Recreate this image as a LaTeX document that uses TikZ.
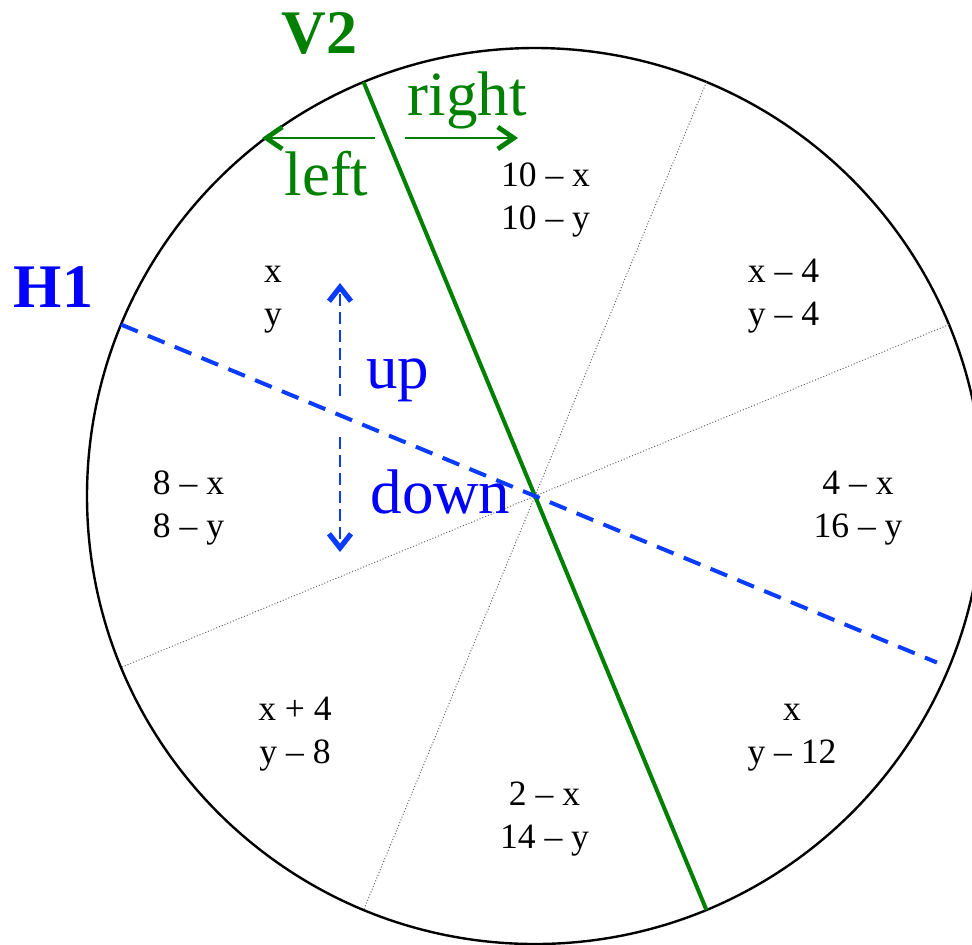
\documentclass[tikz,border=0pt]{standalone}
\usepackage{fontspec}
\setmainfont{Liberation Serif}
\usetikzlibrary{arrows.meta}
\definecolor{vgreen}{RGB}{0,128,0}
\definecolor{hblue}{RGB}{0,0,255}
\definecolor{dblue}{RGB}{10,60,255}
\begin{document}
\begin{tikzpicture}[x=0.5pt,y=-0.5pt,
  lbl/.style={inner sep=0pt,anchor=base,font=\fontsize{17.8}{21.5}\selectfont},
  word/.style={inner sep=0pt,anchor=base,font=\fontsize{31.5}{36}\selectfont},
  tag/.style={inner sep=0pt,anchor=base,font=\fontsize{31}{36}\selectfont\bfseries},
  ray/.style={black!60,line width=0.5pt,dash pattern=on 0.5pt off 1pt},
  vline/.style={vgreen,line width=2pt},
  hline/.style={dblue,line width=2pt,dash pattern=on 9pt off 5.5pt},
  garrow/.style={vgreen,line width=1.2pt,-{Straight Barb[length=8pt,width=11pt,line width=2.4pt]}},
  barrow/.style={dblue,line width=1pt,dash pattern=on 6pt off 3pt,-{Straight Barb[length=7pt,width=11pt,line width=2.6pt]}}
]
\useasboundingbox (0,0) rectangle (972,944);
\coordinate (O) at (535,496);
\draw[line width=1.2pt] (O) circle[radius=224pt];
% dotted sector lines
\coordinate (d1a) at (948.9,324.6);
\coordinate (d1b) at (121.1,667.4);
\coordinate (d2a) at (706.4,82.1);
\coordinate (d2b) at (363.6,909.9);
\draw[ray] (d1a) -- (d1b);
\draw[ray] (d2a) -- (d2b);
% V2 green line
\coordinate (v2a) at (363.6,82.1);
\coordinate (v2b) at (706.4,909.9);
\draw[vline] (v2a) -- (v2b);
% H1 blue dashed line
\coordinate (h1a) at (121.1,324.6);
\coordinate (h1b) at (936.9,662.5);
\draw[hline] (h1a) -- (h1b);
% green arrows
\coordinate (ls) at (375,138);
\coordinate (le) at (262,138);
\coordinate (rs) at (405,138);
\coordinate (re) at (518,138);
\draw[garrow] (ls) -- (le);
\draw[garrow] (rs) -- (re);
% blue arrows
\coordinate (us) at (340,396);
\coordinate (ue) at (340,283);
\coordinate (ds) at (340,437);
\coordinate (de) at (340,552);
\draw[barrow] (us) -- (ue);
\draw[barrow] (ds) -- (de);
% titles
\node[tag,text=vgreen] (V2) at (319.5,53) {V2};
\node[tag,text=hblue] (H1) at (53.5,307) {H1};
\node[word,text=vgreen] (right) at (467,115) {right};
\node[word,text=vgreen] (left) at (326.5,195) {left};
\node[word,text=hblue] (up) at (397.5,388) {up};
\node[word,text=hblue] (down) at (440.5,513) {down};
% sector labels
\node[lbl] (s1a) at (273,282) {x};
\node[lbl] (s1b) at (273,325) {y};
\node[lbl] (s2a) at (545.5,186) {10 – x};
\node[lbl] (s2b) at (545.5,229) {10 – y};
\node[lbl] (s3a) at (783.5,282) {x – 4};
\node[lbl] (s3b) at (783.5,325) {y – 4};
\node[lbl] (s4a) at (188.5,494) {8 – x};
\node[lbl] (s4b) at (188.5,537) {8 – y};
\node[lbl] (s5a) at (858,494) {4 – x};
\node[lbl] (s5b) at (858,537) {16 – y};
\node[lbl] (s6a) at (295,720) {x + 4};
\node[lbl] (s6b) at (295,763) {y – 8};
\node[lbl] (s7a) at (544.5,805) {2 – x};
\node[lbl] (s7b) at (544.5,848) {14 – y};
\node[lbl] (s8a) at (792,720) {x};
\node[lbl] (s8b) at (792,763) {y – 12};
\end{tikzpicture}
\end{document}
